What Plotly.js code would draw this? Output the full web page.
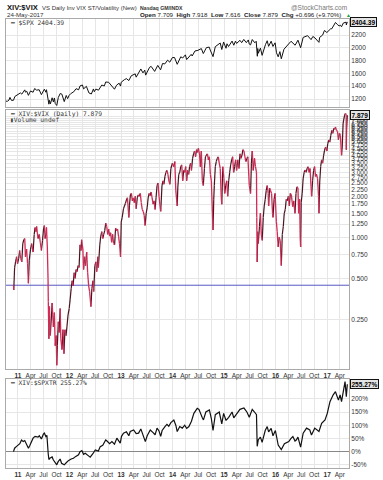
<!DOCTYPE html>
<html><head><meta charset="utf-8">
<script src="https://cdn.plot.ly/plotly-3.0.1.min.js"></script>
<style>html,body{margin:0;padding:0;background:#fff;}#chart{width:383px;height:480px;}</style>
</head><body><div id="chart"></div>
<script>
// ---------- DATA ----------
const spxDates = [
'2010-10-08','2010-10-19','2010-10-29','2010-11-05','2010-11-16','2010-11-30','2010-12-10','2010-12-22',
'2011-01-07','2011-01-18','2011-01-28','2011-02-18','2011-02-23','2011-03-04','2011-03-16','2011-03-31',
'2011-04-18','2011-04-29','2011-05-13','2011-05-31','2011-06-16','2011-07-07','2011-07-18','2011-07-22',
'2011-08-08','2011-08-12','2011-08-19','2011-08-31','2011-09-09','2011-09-16','2011-09-22','2011-10-03',
'2011-10-14','2011-10-27','2011-11-08','2011-11-25','2011-12-09','2011-12-19','2011-12-30','2012-01-13',
'2012-01-31','2012-02-17','2012-03-06','2012-03-16','2012-04-02','2012-04-10','2012-04-30','2012-05-18',
'2012-06-04','2012-06-19','2012-06-25','2012-07-06','2012-07-25','2012-08-17','2012-09-04','2012-09-14',
'2012-10-05','2012-10-26','2012-11-15','2012-11-30','2012-12-18','2012-12-28','2013-01-02','2013-01-25',
'2013-02-08','2013-02-25','2013-03-14','2013-04-11','2013-04-18','2013-05-21','2013-06-05','2013-06-18',
'2013-06-24','2013-07-22','2013-08-02','2013-08-27','2013-09-18','2013-10-08','2013-10-22','2013-11-07',
'2013-11-27','2013-12-12','2013-12-31','2014-01-15','2014-02-03','2014-02-28','2014-03-14','2014-04-02',
'2014-04-11','2014-05-13','2014-05-20','2014-06-09','2014-06-30','2014-07-24','2014-08-07','2014-08-29',
'2014-09-18','2014-09-25','2014-10-15','2014-10-31','2014-11-28','2014-12-05','2014-12-16','2014-12-29',
'2015-01-15','2015-01-22','2015-02-02','2015-02-27','2015-03-11','2015-03-23','2015-03-31','2015-04-24',
'2015-05-06','2015-05-21','2015-06-08','2015-06-22','2015-06-29','2015-07-08','2015-07-20','2015-08-07',
'2015-08-17','2015-08-25','2015-08-28','2015-09-01','2015-09-16','2015-09-28','2015-10-22','2015-11-03',
'2015-11-13','2015-12-01','2015-12-14','2015-12-29','2016-01-08','2016-01-20','2016-02-01','2016-02-11',
'2016-03-01','2016-03-31','2016-04-20','2016-05-19','2016-06-08','2016-06-27','2016-07-15','2016-08-15',
'2016-09-09','2016-09-22','2016-10-07','2016-11-04','2016-11-09','2016-11-30','2016-12-13','2016-12-30',
'2017-01-26','2017-02-03','2017-02-17','2017-03-01','2017-03-14','2017-03-27','2017-04-05','2017-04-13',
'2017-04-26','2017-05-08','2017-05-16','2017-05-17','2017-05-24'];
const spxValues = [
1165,1166,1183,1225,1178,1180,1240,1258,
1271,1295,1276,1343,1307,1321,1257,1326,
1305,1364,1338,1345,1268,1353,1306,1345,
1119,1179,1124,1219,1154,1216,1130,1099,
1224,1285,1276,1159,1255,1206,1258,1289,
1312,1361,1344,1404,1419,1358,1398,1295,
1278,1357,1314,1354,1338,1418,1404,1466,
1461,1411,1353,1416,1447,1402,1462,1503,
1518,1488,1563,1593,1541,1669,1608,1651,
1573,1695,1710,1631,1725,1656,1755,1748,
1807,1775,1848,1848,1742,1859,1841,1890,
1816,1897,1872,1951,1960,1988,1910,2003,
2011,1965,1862,2018,2068,2075,1973,2091,
1993,2063,2020,2105,2040,2104,2068,2117,
2080,2131,2080,2123,2057,2046,2129,2078,
2102,1868,1989,1914,1995,1882,2052,2110,
2023,2103,2021,2078,1922,1859,1940,1829,
1978,2060,2102,2040,2119,2001,2162,2190,
2128,2177,2153,2085,2163,2199,2271,2239,
2297,2297,2351,2396,2365,2342,2353,2329,
2388,2399,2400,2357,2404.39];

const ratioDates = [
'2010-11-30','2010-12-02','2010-12-08','2010-12-15','2010-12-22','2010-12-29','2011-01-06','2011-01-13',
'2011-01-20','2011-01-28','2011-02-04','2011-02-11','2011-02-18','2011-02-23','2011-03-03','2011-03-10',
'2011-03-16','2011-03-22','2011-03-31','2011-04-08','2011-04-18','2011-04-26','2011-05-02','2011-05-09',
'2011-05-13','2011-05-23','2011-06-01','2011-06-08','2011-06-16','2011-06-24','2011-07-01','2011-07-07',
'2011-07-12','2011-07-18','2011-07-22','2011-07-28','2011-08-02','2011-08-04','2011-08-08','2011-08-10',
'2011-08-12','2011-08-18','2011-08-26','2011-08-31','2011-09-09','2011-09-16','2011-09-22','2011-09-29',
'2011-10-03','2011-10-07','2011-10-14','2011-10-20','2011-10-27','2011-11-01','2011-11-09','2011-11-16',
'2011-11-23','2011-11-30','2011-12-08','2011-12-14','2011-12-22','2011-12-30','2012-01-06','2012-01-13',
'2012-01-20','2012-01-27','2012-02-03','2012-02-10','2012-02-17','2012-02-24','2012-03-02','2012-03-09',
'2012-03-16','2012-03-23','2012-03-27','2012-04-05','2012-04-10','2012-04-17','2012-04-24','2012-05-02',
'2012-05-09','2012-05-16','2012-05-23','2012-06-01','2012-06-08','2012-06-15','2012-06-21','2012-06-29',
'2012-07-06','2012-07-12','2012-07-20','2012-07-24','2012-08-03','2012-08-10','2012-08-17','2012-08-24',
'2012-08-31','2012-09-07','2012-09-14','2012-09-21','2012-09-28','2012-10-05','2012-10-12','2012-10-19',
'2012-10-26','2012-11-02','2012-11-09','2012-11-16','2012-11-23','2012-11-30','2012-12-07','2012-12-14',
'2012-12-21','2012-12-28','2013-01-02','2013-01-09','2013-01-18','2013-01-25','2013-02-01','2013-02-08',
'2013-02-15','2013-02-25','2013-03-01','2013-03-08','2013-03-15','2013-03-22','2013-03-28','2013-04-05',
'2013-04-12','2013-04-18','2013-04-26','2013-05-03','2013-05-10','2013-05-17','2013-05-24','2013-05-31',
'2013-06-07','2013-06-14','2013-06-20','2013-06-28','2013-07-05','2013-07-12','2013-07-19','2013-07-26',
'2013-08-02','2013-08-09','2013-08-16','2013-08-23','2013-08-30','2013-09-06','2013-09-13','2013-09-20',
'2013-09-27','2013-10-04','2013-10-09','2013-10-18','2013-10-25','2013-11-01','2013-11-08','2013-11-15',
'2013-11-22','2013-11-29','2013-12-06','2013-12-13','2013-12-20','2013-12-31','2014-01-10','2014-01-17',
'2014-01-24','2014-02-03','2014-02-07','2014-02-14','2014-02-21','2014-02-28','2014-03-07','2014-03-14',
'2014-03-21','2014-03-28','2014-04-04','2014-04-11','2014-04-17','2014-04-25','2014-05-02','2014-05-09',
'2014-05-15','2014-05-23','2014-05-30','2014-06-06','2014-06-13','2014-06-20','2014-06-27','2014-07-03',
'2014-07-11','2014-07-17','2014-07-24','2014-07-31','2014-08-07','2014-08-15','2014-08-22','2014-08-29',
'2014-09-05','2014-09-12','2014-09-19','2014-09-26','2014-10-03','2014-10-09','2014-10-15','2014-10-20',
'2014-10-24','2014-10-31','2014-11-07','2014-11-14','2014-11-21','2014-11-28','2014-12-05','2014-12-12',
'2014-12-16','2014-12-23','2014-12-31','2015-01-06','2015-01-13','2015-01-20','2015-01-27','2015-02-03',
'2015-02-10','2015-02-17','2015-02-24','2015-03-03','2015-03-10','2015-03-17','2015-03-24','2015-03-31',
'2015-04-08','2015-04-17','2015-04-24','2015-05-01','2015-05-08','2015-05-15','2015-05-22','2015-05-29',
'2015-06-05','2015-06-12','2015-06-19','2015-06-29','2015-07-08','2015-07-14','2015-07-20','2015-07-27',
'2015-08-05','2015-08-12','2015-08-19','2015-08-21','2015-08-24','2015-08-28','2015-09-01','2015-09-09',
'2015-09-16','2015-09-22','2015-09-29','2015-10-06','2015-10-13','2015-10-20','2015-10-27','2015-11-03',
'2015-11-10','2015-11-13','2015-11-20','2015-11-27','2015-12-04','2015-12-11','2015-12-14','2015-12-22',
'2015-12-29','2016-01-07','2016-01-13','2016-01-20','2016-01-27','2016-02-03','2016-02-11','2016-02-18',
'2016-02-25','2016-03-03','2016-03-10','2016-03-17','2016-03-24','2016-04-01','2016-04-08','2016-04-15',
'2016-04-22','2016-05-02','2016-05-09','2016-05-18','2016-05-25','2016-06-01','2016-06-08','2016-06-13',
'2016-06-20','2016-06-24','2016-06-27','2016-07-01','2016-07-08','2016-07-15','2016-07-22','2016-07-29',
'2016-08-05','2016-08-12','2016-08-19','2016-08-26','2016-09-02','2016-09-09','2016-09-13','2016-09-20',
'2016-09-27','2016-10-04','2016-10-11','2016-10-18','2016-10-25','2016-11-01','2016-11-04','2016-11-09',
'2016-11-16','2016-11-23','2016-11-30','2016-12-07','2016-12-14','2016-12-21','2016-12-30','2017-01-06',
'2017-01-13','2017-01-20','2017-01-27','2017-02-03','2017-02-10','2017-02-17','2017-02-24','2017-03-01',
'2017-03-08','2017-03-15','2017-03-22','2017-03-29','2017-04-05','2017-04-13','2017-04-18','2017-04-24',
'2017-04-28','2017-05-05','2017-05-10','2017-05-16','2017-05-17','2017-05-19','2017-05-24'];
const ratioValues = [
0.445,0.41,0.60,0.66,0.72,0.64,0.70,0.80,
0.70,0.66,0.90,0.96,0.98,0.72,0.82,0.64,
0.46,0.68,0.82,0.90,0.78,1.05,1.18,1.10,
1.20,0.98,1.05,0.92,0.80,0.95,1.15,1.22,
0.98,1.05,1.18,0.85,0.50,0.34,0.18,0.25,
0.31,0.19,0.26,0.33,0.22,0.28,0.16,0.19,
0.115,0.16,0.24,0.20,0.30,0.18,0.15,0.21,
0.14,0.21,0.19,0.22,0.27,0.30,0.35,0.42,
0.48,0.44,0.55,0.50,0.58,0.56,0.62,0.60,
0.88,0.80,0.96,0.82,0.58,0.72,0.62,0.78,
0.55,0.44,0.40,0.31,0.42,0.48,0.40,0.62,
0.66,0.56,0.72,0.60,0.88,1.02,1.10,0.98,
1.05,1.12,1.27,1.20,1.05,1.15,1.02,1.08,
0.92,1.05,0.90,0.88,1.17,1.12,1.15,1.02,
0.90,0.72,1.30,1.40,1.62,1.70,1.78,1.88,
1.95,1.40,1.70,2.05,2.10,1.85,1.95,1.80,
2.00,1.62,1.95,2.05,2.00,2.10,1.80,1.60,
1.55,1.45,1.22,1.50,1.65,1.95,2.10,2.02,
2.15,1.95,1.75,1.85,1.60,1.95,2.40,2.50,
2.00,1.70,1.55,2.40,2.60,2.45,2.80,3.00,
3.10,2.90,2.60,2.45,3.20,3.50,3.30,3.60,
2.20,1.70,2.30,2.90,3.00,3.30,3.40,2.60,
3.10,3.00,3.30,2.60,3.10,2.90,3.30,3.50,
3.10,3.80,4.10,4.30,3.90,4.40,4.20,4.50,
4.10,3.30,4.30,2.60,2.40,3.20,3.90,4.00,
4.10,3.70,3.90,2.90,2.60,1.70,1.13,1.90,
2.40,3.30,3.60,3.80,3.90,3.50,3.20,2.00,
1.75,3.30,2.70,2.10,2.40,2.60,2.00,2.60,
3.00,3.40,3.70,3.90,3.00,3.30,3.70,3.10,
3.70,3.20,4.10,3.80,4.00,4.40,4.30,3.90,
3.60,3.80,3.90,2.40,2.10,3.50,4.30,3.10,
3.80,3.30,3.00,1.40,0.66,1.10,0.90,1.20,
1.50,1.05,0.95,1.40,1.70,1.90,2.20,2.40,
2.10,1.70,2.30,2.20,2.10,1.50,1.40,1.90,
2.10,1.30,1.10,0.85,1.00,0.95,0.62,1.05,
1.20,1.50,1.60,1.90,1.85,2.00,1.70,2.10,
2.05,1.68,1.85,1.50,2.10,2.35,2.30,1.50,
1.90,1.00,0.85,1.80,2.10,2.70,3.00,3.12,
3.00,3.20,3.30,3.00,3.20,2.35,2.00,2.60,
3.10,3.30,2.80,2.90,2.70,2.00,1.50,2.50,
3.30,3.70,3.50,4.00,4.37,4.60,4.30,4.90,
5.18,5.00,5.60,6.10,5.80,6.30,6.20,6.45,
6.10,6.00,5.20,5.80,5.60,4.00,4.60,6.80,
7.25,7.90,8.10,8.00,4.40,6.20,7.879];

const perfDates = [
'2010-11-30','2010-12-08','2010-12-22','2011-01-03','2011-01-14','2011-01-26','2011-02-07','2011-02-18',
'2011-03-04','2011-03-16','2011-03-25','2011-04-01','2011-04-18','2011-05-02','2011-05-23','2011-06-01',
'2011-06-16','2011-06-30','2011-07-07','2011-07-18','2011-07-25','2011-08-03','2011-08-08','2011-08-15',
'2011-08-31','2011-09-08','2011-09-22','2011-10-03','2011-10-13','2011-10-27','2011-11-06','2011-11-25',
'2011-12-09','2011-12-24','2012-01-13','2012-01-29','2012-02-15','2012-03-05','2012-03-16','2012-03-29',
'2012-04-10','2012-04-22','2012-05-15','2012-05-27','2012-06-15','2012-07-02','2012-07-24','2012-08-06',
'2012-08-24','2012-09-14','2012-09-23','2012-10-12','2012-10-28','2012-11-15','2012-12-02','2012-12-14',
'2012-12-26','2013-01-04','2013-01-18','2013-02-08','2013-02-25','2013-03-07','2013-03-31','2013-04-18',
'2013-05-05','2013-05-21','2013-06-07','2013-06-22','2013-07-05','2013-07-27','2013-08-16','2013-08-30',
'2013-09-13','2013-09-27','2013-10-09','2013-10-19','2013-11-08','2013-11-22','2013-12-05','2013-12-20',
'2014-01-10','2014-01-24','2014-02-03','2014-02-21','2014-03-11','2014-03-28','2014-04-11','2014-04-27',
'2014-05-15','2014-06-01','2014-06-25','2014-07-07','2014-07-31','2014-08-08','2014-08-25','2014-09-19',
'2014-10-03','2014-10-15','2014-10-31','2014-11-28','2014-12-16','2014-12-29','2015-01-15','2015-02-03',
'2015-02-27','2015-03-11','2015-04-03','2015-04-24','2015-05-22','2015-06-12','2015-06-29','2015-07-20',
'2015-08-05','2015-08-19','2015-08-24','2015-09-01','2015-09-16','2015-09-28','2015-10-20','2015-11-03',
'2015-11-13','2015-12-01','2015-12-14','2015-12-31','2016-01-20','2016-02-11','2016-03-04','2016-04-04',
'2016-04-20','2016-05-03','2016-05-18','2016-05-27','2016-06-08','2016-06-27','2016-07-15','2016-08-08',
'2016-08-31','2016-09-12','2016-10-05','2016-10-20','2016-11-04','2016-11-23','2016-12-17','2017-01-02',
'2017-01-21','2017-02-13','2017-03-01','2017-03-22','2017-04-03','2017-04-13','2017-04-26','2017-05-08',
'2017-05-17','2017-05-24'];
const perfValues = [
0,13,20,25,30,44,38,42,
28,13,22,32,51,58,55,60,
48,66,70,57,62,-6,-30,-25,
-20,-31,-40,-50,-38,-28,-44,-50,
-42,-34,-28,-25,-18,-12,0,4,
-10,-6,-16,-21,-8,6,2,19,
24,44,40,30,38,28,51,42,
32,58,70,75,60,76,82,68,
70,86,62,38,60,82,72,64,
89,78,58,80,95,103,96,110,
120,100,76,95,89,100,88,95,
115,145,164,160,128,120,150,158,
125,80,140,150,105,145,118,130,
150,128,145,160,165,150,130,160,
150,140,20,45,55,35,80,95,
75,88,60,80,25,8,30,38,
50,57,40,44,55,17,70,89,
82,63,89,82,76,107,120,145,
189,215,227,195,215,189,234,265,
208,255.27];

const tickYears = ['11','12','13','14','15','16','17'];
const tickMonths = ['Apr','Jul','Oct'];
const spxTicks = [1200,1400,1600,1800,2000,2200];
const ratioTicks = [0.25,0.5,0.75,1,1.25,1.5,1.75,2,2.25,2.5,2.75,3,3.25,3.5,3.75,4,4.25,4.5,4.75,5,5.25,5.5,5.75,6,6.25,6.5,6.75,7,7.25,7.5,7.75];
const perfTicks = [-50,0,50,100,150,200];

// ---------- BUILD ----------
const quarterTicks = [], quarterLabels = [];
tickYears.forEach((y, i) => {
  const yr = 2011 + i;
  quarterTicks.push(yr + '-01-01'); quarterLabels.push('<b>' + y + '</b>');
  const mm = ['04','07','10'];
  tickMonths.forEach((m, j) => {
    if (yr === 2017 && j > 0) return;
    quarterTicks.push(yr + '-' + mm[j] + '-01'); quarterLabels.push(m);
  });
});

const upX=[],upY=[],dnX=[],dnY=[];
for (let i=1;i<ratioDates.length;i++){
  const up = ratioValues[i] >= ratioValues[i-1];
  const X = up?upX:dnX, Y = up?upY:dnY;
  X.push(ratioDates[i-1], ratioDates[i], null);
  Y.push(ratioValues[i-1], ratioValues[i], null);
}

const L=6,R=349,T=19,B=468;
const px = x => (x-L)/(R-L);
const py = y => (B-y)/(B-T);
const xr = ['2010-10-08','2017-06-05'];
const FONT = 'Liberation Sans, Arial, sans-serif';
const MONO = 'DejaVu Sans Mono, monospace';
const tickFont = {family: FONT, size: 6.5, color: '#333'};

const xBase = {
  type:'date', range: xr, tickmode:'array', tickvals: quarterTicks, ticktext: quarterLabels,
  showgrid:true, gridcolor:'#e6e6e6', gridwidth:1, showline:true, mirror:true, linecolor:'#aaa', linewidth:1,
  ticks:'', tickfont: tickFont, zeroline:false, fixedrange:true
};
const yBase = {side:'right', showgrid:true, gridcolor:'#e6e6e6', showline:true, mirror:true, linecolor:'#aaa',
  linewidth:1, ticks:'', tickfont: tickFont, zeroline:false, tickmode:'array', fixedrange:true};

const traces = [
  {x: spxDates, y: spxValues, xaxis:'x3', yaxis:'y3', mode:'lines', line:{color:'#111', width:1}, hoverinfo:'skip'},
  {x: xr, y: [ratioValues[0], ratioValues[0]], xaxis:'x2', yaxis:'y2',
   mode:'lines', line:{color:'#5858c4', width:1}, hoverinfo:'skip', cliponaxis:true},
  {x: upX, y: upY, xaxis:'x2', yaxis:'y2', mode:'lines', connectgaps:false, line:{color:'#4a1420', width:1.2}, hoverinfo:'skip'},
  {x: dnX, y: dnY, xaxis:'x2', yaxis:'y2', mode:'lines', connectgaps:false, line:{color:'#d42a55', width:1.3}, hoverinfo:'skip'},
  {x: perfDates, y: perfValues, xaxis:'x', yaxis:'y', mode:'lines', line:{color:'#111', width:1.2}, hoverinfo:'skip'}
];

const lastSpx = spxValues[spxValues.length-1];
const lastRatio = ratioValues[ratioValues.length-1];
const lastPerf = perfValues[perfValues.length-1];

function txt(x, y, text, opts) {
  return Object.assign({xref:'paper', yref:'paper', x: px(x), y: py(y), text: text, showarrow:false,
    xanchor:'left', yanchor:'middle', font:{family: FONT, size: 6.5, color:'#222'}}, opts||{});
}
function box(yref, yval, text) {
  return {xref:'paper', yref: yref, x: px(350), y: yval, text: '<b>'+text+'</b>', showarrow:false,
    xanchor:'left', yanchor:'middle', bgcolor:'#e4e4e4', bordercolor:'#111', borderwidth:1, borderpad:0.5,
    font:{family: FONT, size: 6.5, color:'#000'}};
}

const annotations = [
  txt(5, 7, '<b>XIV:$VIX</b>', {font:{family: FONT, size: 7.6, color:'#111'}}),
  txt(40, 7.5, 'VS Daily Inv VIX ST/Volatility (New)', {font:{family: FONT, size: 6, color:'#333'}}),
  txt(138, 7.5, '<b>Nasdaq GM/INDX</b>', {font:{family: FONT, size: 5.2, color:'#333'}}),
  txt(349, 7, '@StockCharts.com', {xanchor:'right', font:{family: FONT, size: 6.5, color:'#777'}}),
  txt(5, 15, '24-May-2017', {font:{family: FONT, size: 6.2, color:'#333'}}),
  txt(343, 15, '<b>Open</b> 7.709  <b>High</b> 7.918  <b>Low</b> 7.616  <b>Close</b> 7.879  <b>Chg</b> +0.696 (+9.70%)',
      {xanchor:'right', font:{family: FONT, size: 6.2, color:'#222'}}),
  txt(344, 15, '▲', {font:{family: FONT, size: 5, color:'#2a9a2a'}}),
  txt(8, 23, '━ $SPX 2404.39', {font:{family: MONO, size: 6.3, color:'#333'}}),
  txt(8, 113.5, '━ XIV:$VIX (Daily) 7.879', {font:{family: MONO, size: 6.3, color:'#333'}}),
  txt(8, 119.5, '▮Volume undef', {font:{family: MONO, size: 6.3, color:'#444'}}),
  txt(8, 382.5, '━ XIV:$SPXTR 255.27%', {font:{family: MONO, size: 6.3, color:'#333'}}),
  box('y3', lastSpx, lastSpx.toFixed(2)),
  box('y2', Math.log10(lastRatio), lastRatio.toFixed(3)),
  box('y', lastPerf, lastPerf.toFixed(2) + '%')
];

const layout = {
  width:383, height:480, margin:{l:L, r:383-R, t:T, b:480-B}, paper_bgcolor:'#fff', plot_bgcolor:'#fff',
  showlegend:false, hovermode:false,
  xaxis: Object.assign({}, xBase, {anchor:'y'}),
  xaxis2: Object.assign({}, xBase, {anchor:'y2'}),
  xaxis3: Object.assign({}, xBase, {anchor:'y3', showticklabels:false}),
  yaxis: Object.assign({}, yBase, {anchor:'x', domain:[0, py(379)], range:[-62, 275],
    tickvals: perfTicks, ticktext: perfTicks.map(v => v + '%'), zeroline:true, zerolinecolor:'#888', zerolinewidth:1}),
  yaxis2: Object.assign({}, yBase, {anchor:'x2', type:'log', domain:[py(369), py(110)],
    range:[Math.log10(0.108), Math.log10(8.6)], tickvals: ratioTicks, ticktext: ratioTicks.map(v => v.toFixed(3))}),
  yaxis3: Object.assign({}, yBase, {anchor:'x3', domain:[py(107), 1], range:[1075, 2450],
    tickvals: spxTicks, ticktext: spxTicks.map(String)}),
  annotations: annotations
};

Plotly.newPlot('chart', traces, layout, {staticPlot:true, displayModeBar:false});
</script>
</body></html>
